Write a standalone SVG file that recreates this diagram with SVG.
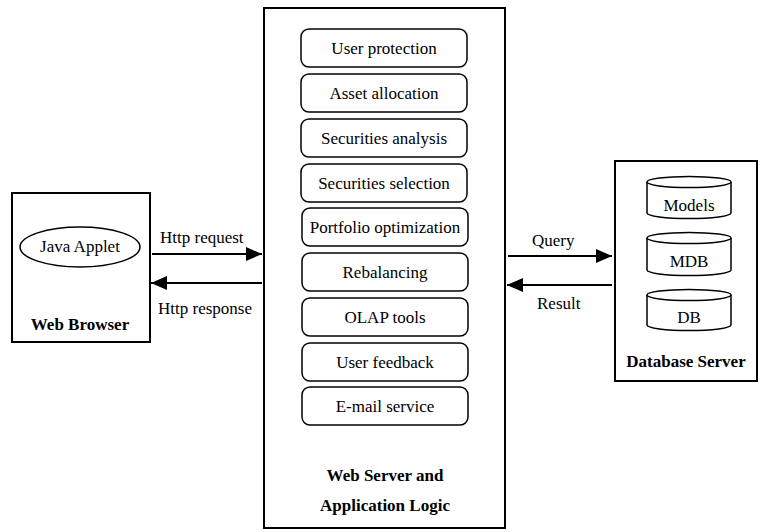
<svg xmlns="http://www.w3.org/2000/svg" width="760" height="532" viewBox="0 0 760 532">
<style>
text{font-family:"Liberation Serif","Times New Roman",serif;font-size:17px;fill:#000;text-anchor:middle}
.b{font-weight:bold}
.l{text-anchor:start}
.box{fill:#fff;stroke:#000;stroke-width:2}
.mod{fill:#fff;stroke:#000;stroke-width:1.5}
.cyl{fill:#fff;stroke:#000;stroke-width:1.5}
.c{stroke:#000;stroke-width:2;fill:none}
</style>
<defs>
<marker id="ah" viewBox="0 0 16 14" refX="16" refY="7" markerWidth="16" markerHeight="14" markerUnits="userSpaceOnUse" orient="auto">
<path d="M0,0 L16,7 L0,14 Z" fill="#000"/>
</marker>
</defs>
<rect width="760" height="532" fill="#fff"/>
<g id="browser">
<rect class="box" x="12" y="193" width="138" height="149"/>
<ellipse class="mod" cx="80" cy="247" rx="60" ry="20"/>
<text x="80" y="252">Java Applet</text>
<text class="b" x="80" y="330">Web Browser</text>
</g>
<g id="server">
<rect class="box" x="264" y="8" width="241" height="520"/>
<text class="b" x="385" y="481">Web Server and</text>
<text class="b" x="385" y="511">Application Logic</text>
</g>
<g id="m1"><rect class="mod" x="301" y="29" width="166" height="38" rx="8"/><text x="384" y="54">User protection</text></g>
<g id="m2"><rect class="mod" x="301" y="74" width="166" height="38" rx="8"/><text x="384" y="99">Asset allocation</text></g>
<g id="m3"><rect class="mod" x="301" y="119" width="166" height="38" rx="8"/><text x="384" y="144">Securities analysis</text></g>
<g id="m4"><rect class="mod" x="301" y="164" width="166" height="38" rx="8"/><text x="384" y="189">Securities selection</text></g>
<g id="m5"><rect class="mod" x="302" y="208" width="166" height="38" rx="8"/><text x="385" y="233">Portfolio optimization</text></g>
<g id="m6"><rect class="mod" x="302" y="253" width="166" height="38" rx="8"/><text x="385" y="278">Rebalancing</text></g>
<g id="m7"><rect class="mod" x="302" y="298" width="166" height="38" rx="8"/><text x="385" y="323">OLAP tools</text></g>
<g id="m8"><rect class="mod" x="302" y="343" width="166" height="38" rx="8"/><text x="385" y="368">User feedback</text></g>
<g id="m9"><rect class="mod" x="302" y="387" width="166" height="38" rx="8"/><text x="385" y="412">E-mail service</text></g>
<g id="db">
<rect class="box" x="615" y="161" width="142" height="220"/>
<text class="b" x="686" y="367">Database Server</text>
</g>
<g id="models">
<path class="cyl" d="M647,182 A42,5.5 0 0 1 731,182 L731,213 A42,5.5 0 0 1 647,213 Z"/>
<path class="cyl" d="M647,182 A42,5.5 0 0 0 731,182"/>
<text x="689" y="211">Models</text>
</g>
<g id="mdb">
<path class="cyl" d="M647,238 A42,5.5 0 0 1 731,238 L731,270 A42,5.5 0 0 1 647,270 Z"/>
<path class="cyl" d="M647,238 A42,5.5 0 0 0 731,238"/>
<text x="689" y="267">MDB</text>
</g>
<g id="dbc">
<path class="cyl" d="M647,295 A42,5.5 0 0 1 731,295 L731,325 A42,5.5 0 0 1 647,325 Z"/>
<path class="cyl" d="M647,295 A42,5.5 0 0 0 731,295"/>
<text x="689" y="323">DB</text>
</g>
<g id="connectors">
<line class="c" x1="152" y1="254" x2="262" y2="254" marker-end="url(#ah)"/>
<line class="c" x1="262" y1="283" x2="151" y2="283" marker-end="url(#ah)"/>
<line class="c" x1="508" y1="256" x2="612" y2="256" marker-end="url(#ah)"/>
<line class="c" x1="612" y1="285" x2="507" y2="285" marker-end="url(#ah)"/>
<text class="l" x="160" y="243">Http request</text>
<text class="l" x="158" y="314">Http response</text>
<text class="l" x="532" y="246">Query</text>
<text class="l" x="537" y="309">Result</text>
</g>
</svg>
